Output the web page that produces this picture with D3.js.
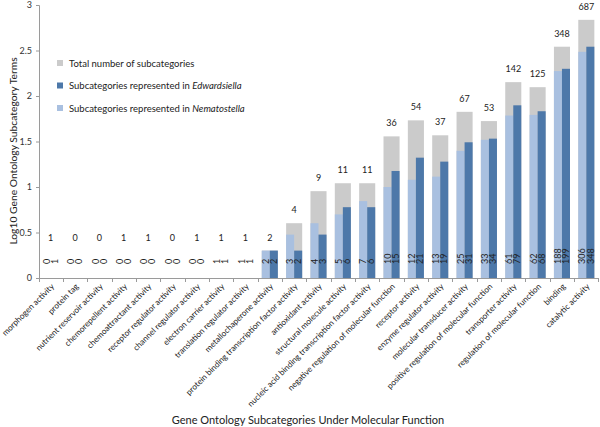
<!DOCTYPE html>
<html>
<head>
<meta charset="utf-8">
<script src="https://cdn.jsdelivr.net/npm/d3@7"></script>
<style>
  body { margin: 0; background: #fff; }
  svg { font-family: Lato, "Open Sans", sans-serif; }
</style>
</head>
<body>
<div id="chart"></div>
<script>
var categories = [
  "morphogen activity", "protein tag", "nutrient reservoir activity",
  "chemorepellent activity", "chemoattractant activity", "receptor regulator activity",
  "channel regulator activity", "electron carrier activity", "translation regulator activity",
  "metallochaperone activity", "protein binding transcription factor activity",
  "antioxidant activity", "structural molecule activity",
  "nucleic acid binding transcription factor activity",
  "negative regulation of molecular function", "receptor activity",
  "enzyme regulator activity", "molecular transducer activity",
  "positive regulation of molecular function", "transporter activity",
  "regulation of molecular function", "binding", "catalytic activity"
];
var totalCounts = [1, 0, 0, 1, 1, 0, 1, 1, 1, 2, 4, 9, 11, 11, 36, 54, 37, 67, 53, 142, 125, 348, 687];
var nematostellaCounts = [0, 0, 0, 0, 0, 0, 0, 1, 1, 2, 3, 4, 5, 7, 10, 12, 13, 25, 33, 61, 62, 188, 306];
var edwardsiellaCounts = [1, 0, 0, 0, 0, 0, 0, 1, 1, 2, 2, 3, 6, 6, 15, 21, 19, 31, 34, 79, 68, 199, 348];
var yTicks = [0, 0.5, 1, 1.5, 2, 2.5, 3];

var width = 600, height = 427;
var colTotal = "#cbcbcb", colEdw = "#4d78a9", colNem = "#a9c0e0";

var svg = d3.select("#chart").append("svg").attr("width", width).attr("height", height);

var x = d3.scaleBand().domain(categories).range([39, 598]).paddingInner(0.34).paddingOuter(0.15);
var x1 = d3.scaleBand().domain(["nem", "edw"]).range([0, x.bandwidth()]);
var y = d3.scaleLinear().domain([0, 3]).range([278, 5]);

function lg(v) { return v > 0 ? Math.log10(v) : 0; }

var rows = categories.map(function (c, i) {
  return { cat: c, total: totalCounts[i], nem: nematostellaCounts[i], edw: edwardsiellaCounts[i] };
});

// grey total bars behind
svg.selectAll("rect.total").data(rows).enter().append("rect")
  .attr("class", "total")
  .attr("x", d => x(d.cat))
  .attr("width", x.bandwidth())
  .attr("y", d => y(lg(d.total)))
  .attr("height", d => y(0) - y(lg(d.total)))
  .attr("fill", colTotal);

[["nem", colNem], ["edw", colEdw]].forEach(function (s) {
  svg.selectAll("rect." + s[0]).data(rows).enter().append("rect")
    .attr("class", s[0])
    .attr("x", d => x(d.cat) + x1(s[0]))
    .attr("width", x1.bandwidth())
    .attr("y", d => y(lg(d[s[0]])))
    .attr("height", d => y(0) - y(lg(d[s[0]])))
    .attr("fill", s[1]);

  // counts written up from the base
  svg.selectAll("text." + s[0]).data(rows).enter().append("text")
    .attr("class", s[0])
    .attr("transform", d => "translate(" + (x(d.cat) + x1(s[0]) + x1.bandwidth() / 2 + 3.2) + "," + (y(0) - 14) + ") rotate(-90)")
    .attr("font-size", 9)
    .attr("fill", "#222")
    .text(d => d[s[0]]);
});

// totals above the bars
svg.selectAll("text.totlab").data(rows).enter().append("text")
  .attr("class", "totlab")
  .attr("x", d => x(d.cat) + x.bandwidth() / 2)
  .attr("y", d => y(Math.max(lg(d.total), 0.3)) - 10)
  .attr("text-anchor", "middle")
  .attr("font-size", 9)
  .attr("fill", "#222")
  .text(d => d.total);

// y axis
var yAxis = svg.append("g").attr("transform", "translate(39,0)")
  .call(d3.axisLeft(y).tickValues(yTicks).tickSize(3).tickFormat(d => d));
yAxis.select(".domain").attr("stroke", "#9a9a9a");
yAxis.selectAll(".tick line").attr("stroke", "#9a9a9a");
yAxis.selectAll(".tick text").attr("font-size", 9).attr("fill", "#333").attr("font-family", "Lato, sans-serif").attr("x", -7);

// x axis
var step = x.step(), gap = step - x.bandwidth();
svg.append("line").attr("x1", 39).attr("x2", 598).attr("y1", y(0) + 0.5).attr("y2", y(0) + 0.5).attr("stroke", "#9a9a9a");
svg.selectAll("line.xt").data(categories.concat(["end"])).enter().append("line")
  .attr("class", "xt")
  .attr("x1", (d, i) => Math.round(x(categories[0]) - gap / 2 + i * step) + 0.5)
  .attr("x2", (d, i) => Math.round(x(categories[0]) - gap / 2 + i * step) + 0.5)
  .attr("y1", y(0)).attr("y2", y(0) + 4)
  .attr("stroke", "#9a9a9a");

svg.selectAll("text.cat").data(categories).enter().append("text")
  .attr("class", "cat")
  .attr("transform", d => "translate(" + (x(d) + x.bandwidth() / 2 + 4) + "," + (y(0) + 9) + ") rotate(-45)")
  .attr("text-anchor", "end")
  .attr("font-size", 8.2)
  .attr("fill", "#222")
  .text(d => d);

// axis titles
svg.append("text")
  .attr("transform", "translate(17,151) rotate(-90)")
  .attr("text-anchor", "middle")
  .attr("font-size", 10.3)
  .attr("fill", "#222")
  .text("Log10 Gene Ontology Subcategory Terms");

svg.append("text")
  .attr("x", 308).attr("y", 424)
  .attr("text-anchor", "middle")
  .attr("font-size", 11)
  .attr("fill", "#222")
  .text("Gene Ontology Subcategories Under Molecular Function");

// legend
var legend = [
  { c: colTotal, t: "Total number of subcategories", sp: "" },
  { c: colEdw, t: "Subcategories represented in ", sp: "Edwardsiella" },
  { c: colNem, t: "Subcategories represented in ", sp: "Nematostella" }
];
var lgG = svg.selectAll("g.leg").data(legend).enter().append("g")
  .attr("class", "leg")
  .attr("transform", (d, i) => "translate(57," + (63 + i * 22.5) + ")");
lgG.append("rect").attr("x", 0).attr("y", -3).attr("width", 6).attr("height", 6).attr("fill", d => d.c);
var lt = lgG.append("text").attr("x", 12).attr("y", 3.5).attr("font-size", 9.5).attr("fill", "#222");
lt.append("tspan").text(d => d.t);
lt.append("tspan").attr("font-style", "italic").text(d => d.sp);
</script>
</body>
</html>
